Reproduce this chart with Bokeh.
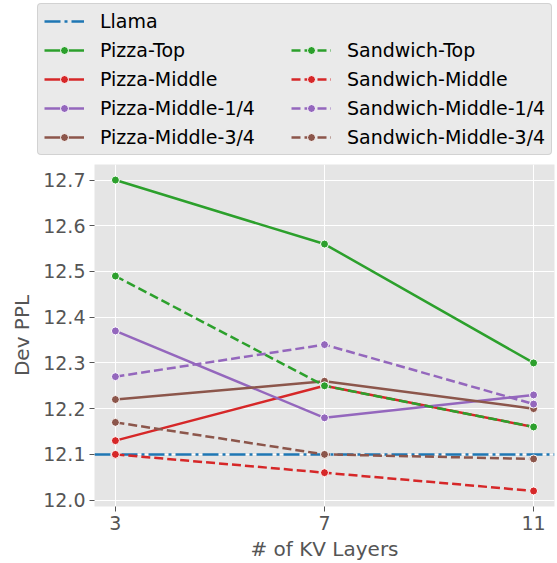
from bokeh.plotting import figure
from bokeh.layouts import column
from bokeh.models import (Legend, LegendItem, Span, FixedTicker, PrintfTickFormatter, Range1d,
                          ColumnDataSource)
from bokeh.embed import file_html
from bokeh.resources import INLINE

# Dev perplexity versus number of KV layers
kv_layers = [3, 7, 11]
llama_ppl = 12.10

pizza_top = [12.70, 12.56, 12.30]
pizza_middle = [12.13, 12.25, 12.16]
pizza_middle_q1 = [12.37, 12.18, 12.23]
pizza_middle_q3 = [12.22, 12.26, 12.20]

sandwich_top = [12.49, 12.25, 12.16]
sandwich_middle = [12.10, 12.06, 12.02]
sandwich_middle_q1 = [12.27, 12.34, 12.21]
sandwich_middle_q3 = [12.17, 12.10, 12.09]

y_ticks = [12.0, 12.1, 12.2, 12.3, 12.4, 12.5, 12.6, 12.7]

GREEN, RED, PURPLE, BROWN, BLUE = "#2ca02c", "#d62728", "#9467bd", "#8c564b", "#1f77b4"
FONT = "DejaVu Sans"
DASH = "9 4"
DASHDOT = "16 4 3 4"

series = [
    ("Pizza-Top", pizza_top, GREEN, "solid"),
    ("Pizza-Middle", pizza_middle, RED, "solid"),
    ("Pizza-Middle-1/4", pizza_middle_q1, PURPLE, "solid"),
    ("Pizza-Middle-3/4", pizza_middle_q3, BROWN, "solid"),
    ("Sandwich-Top", sandwich_top, GREEN, DASH),
    ("Sandwich-Middle", sandwich_middle, RED, DASH),
    ("Sandwich-Middle-1/4", sandwich_middle_q1, PURPLE, DASH),
    ("Sandwich-Middle-3/4", sandwich_middle_q3, BROWN, DASH),
]

# ---- main chart ----
p = figure(width=557, height=405, output_backend="svg", toolbar_location=None,
           x_range=Range1d(2.6, 11.4), y_range=Range1d(11.986, 12.734),
           min_border_left=94, min_border_right=3, min_border_top=6, min_border_bottom=56)
p.frame_align = False
p.background_fill_color = "#e5e5e5"
p.border_fill_color = "white"
p.outline_line_color = None

for ax in (p.xaxis[0], p.yaxis[0]):
    ax.axis_line_color = None
    ax.major_tick_line_color = "#555555"
    ax.major_tick_out = 5
    ax.major_tick_in = 0
    ax.minor_tick_line_color = None
    ax.major_label_text_font = FONT
    ax.major_label_text_font_size = "19px"
    ax.major_label_text_color = "#555555"
    ax.axis_label_text_font = FONT
    ax.axis_label_text_font_size = "20px"
    ax.axis_label_text_font_style = "normal"
    ax.axis_label_text_color = "#555555"
    ax.major_label_standoff = 4

p.xaxis.ticker = FixedTicker(ticks=kv_layers)
p.yaxis.ticker = FixedTicker(ticks=y_ticks)
p.yaxis.formatter = PrintfTickFormatter(format="%.1f")
p.xaxis.axis_label = "# of KV Layers"
p.yaxis.axis_label = "Dev PPL"
p.xaxis.axis_label_standoff = 4
p.yaxis.axis_label_standoff = 6

p.grid.grid_line_color = "white"
p.grid.grid_line_width = 1
p.xgrid.ticker = FixedTicker(ticks=kv_layers)
p.ygrid.ticker = FixedTicker(ticks=y_ticks)

# Llama baseline across the full width
p.add_layout(Span(location=llama_ppl, dimension="width", line_color=BLUE, line_width=2.5,
                  line_dash=DASHDOT, level="underlay"))

for name, vals, color, dash in series:
    p.line(kv_layers, vals, line_color=color, line_width=2.5, line_dash=dash)
    p.scatter(kv_layers, vals, size=8, fill_color=color, line_color="white", line_width=1)

# ---- legend strip above the chart ----
lg = figure(width=557, height=158, output_backend="svg", toolbar_location=None,
            x_range=Range1d(0, 1), y_range=Range1d(0, 1),
            x_axis_location=None, y_axis_location=None, min_border=0)
lg.frame_align = False
lg.outline_line_color = None
lg.grid.visible = False
lg.background_fill_color = "white"

# keys hold a single NaN point, so only their legend swatches are drawn
nan_src = ColumnDataSource(data=dict(x=[float("nan")], y=[float("nan")]))
llama_key = lg.line("x", "y", source=nan_src, line_color=BLUE, line_width=2.5, line_dash=DASHDOT)
blank_key = lg.line("x", "y", source=nan_src, line_alpha=0)

pizza_items = [LegendItem(label="Llama", renderers=[llama_key])]
sandwich_items = [LegendItem(label=" ", renderers=[blank_key])]
for name, vals, color, dash in series:
    ln = lg.line("x", "y", source=nan_src, line_color=color, line_width=2.5, line_dash=dash)
    sc = lg.scatter("x", "y", source=nan_src, size=7, fill_color=color,
                    line_color="white", line_width=1)
    item = LegendItem(label=name, renderers=[ln, sc])
    (pizza_items if name.startswith("Pizza") else sandwich_items).append(item)

legend = Legend(items=pizza_items + sandwich_items, location=(37, 3),
                orientation="vertical", nrows=5, ncols=2,
                background_fill_color="#e5e5e5", background_fill_alpha=0.8,
                border_line_color="#cccccc", border_line_alpha=0.8, border_line_width=1,
                label_text_font=FONT, label_text_font_size="19px", label_text_color="black",
                glyph_width=40, glyph_height=20, label_height=20, label_width=184,
                label_standoff=16, padding=6, spacing=7, margin=0)
if "border_radius" in Legend.properties():
    legend.border_radius = 4
lg.add_layout(legend, "center")

layout = column(lg, p, spacing=0)
open("out.html", "w").write(file_html(layout, INLINE))
